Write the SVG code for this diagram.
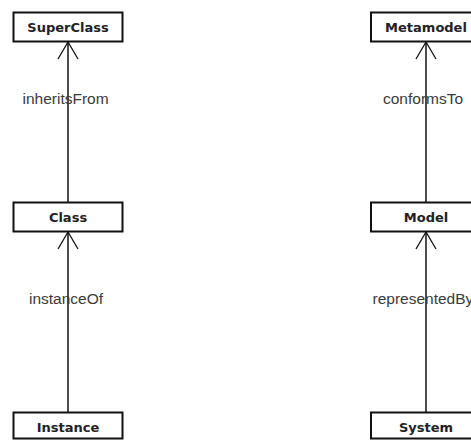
<svg xmlns="http://www.w3.org/2000/svg" width="471" height="441" viewBox="0 0 471 441">
  <style>
    .box { fill: #ffffff; stroke: #111111; stroke-width: 2; }
    .name { font-family: "DejaVu Sans", "Liberation Sans", sans-serif; font-weight: bold; font-size: 13px; fill: #222222; text-anchor: middle; }
    .edge { stroke: #111111; stroke-width: 1.5; fill: none; }
    .rel { font-family: "Liberation Sans", Arial, sans-serif; font-size: 15.5px; fill: #3a3a3a; }
  </style>
  <defs>
    <!-- open arrowhead, tip at the end of the line -->
    <marker id="open" viewBox="-20 -12 22 24" markerWidth="22" markerHeight="24" refX="0" refY="0" orient="auto" markerUnits="userSpaceOnUse">
      <path d="M-17,-10 L0,0 L-17,10" fill="none" stroke="#111111" stroke-width="1.3"/>
    </marker>
  </defs>
  <rect width="471" height="441" fill="#ffffff"/>

  <g id="connectors">
    <line class="edge" x1="68" y1="202" x2="68" y2="42" marker-end="url(#open)"/>
    <line class="edge" x1="68" y1="412" x2="68" y2="232" marker-end="url(#open)"/>
    <line class="edge" x1="426" y1="202" x2="426" y2="42" marker-end="url(#open)"/>
    <line class="edge" x1="426" y1="412" x2="426" y2="232" marker-end="url(#open)"/>
    <text class="rel" x="22.5" y="104">inheritsFrom</text>
    <text class="rel" x="29" y="304">instanceOf</text>
    <text class="rel" x="383" y="104">conformsTo</text>
    <text class="rel" x="372.5" y="304">representedBy</text>
  </g>

  <g id="superclass">
    <rect class="box" x="13.5" y="12.5" width="109" height="29"/>
    <text class="name" x="68" y="31.5">SuperClass</text>
  </g>
  <g id="class">
    <rect class="box" x="13.5" y="202.5" width="109" height="29"/>
    <text class="name" x="68" y="221.5">Class</text>
  </g>
  <g id="instance">
    <rect class="box" x="13.5" y="412.5" width="109" height="26"/>
    <text class="name" x="68" y="431.5">Instance</text>
  </g>
  <g id="metamodel">
    <rect class="box" x="371" y="12.5" width="110" height="29"/>
    <text class="name" x="426" y="31.5">Metamodel</text>
  </g>
  <g id="model">
    <rect class="box" x="371" y="202.5" width="110" height="29"/>
    <text class="name" x="426" y="221.5">Model</text>
  </g>
  <g id="system">
    <rect class="box" x="371" y="412.5" width="110" height="26"/>
    <text class="name" x="426" y="431.5">System</text>
  </g>
</svg>
